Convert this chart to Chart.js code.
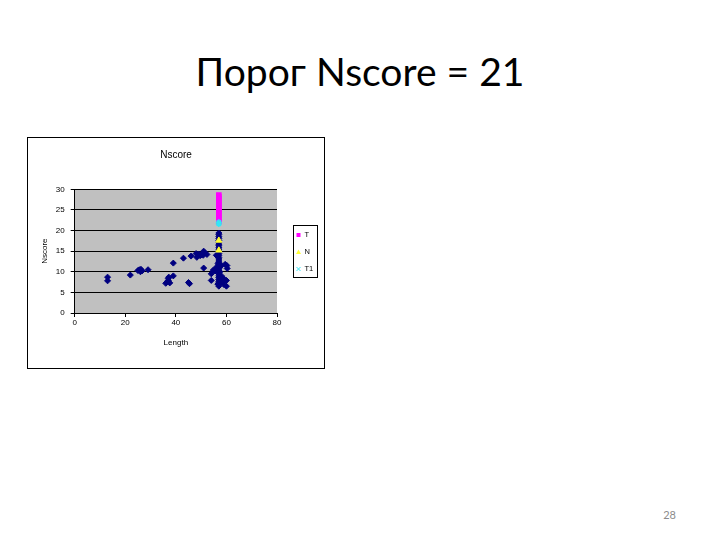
<!DOCTYPE html>
<html>
<head>
<meta charset="utf-8">
<script src="https://cdn.jsdelivr.net/npm/chart.js@4.4.1/dist/chart.umd.min.js"></script>
<style>
  body { margin: 0; width: 720px; height: 540px; background: #fff; position: relative; overflow: hidden; }
  #slideTitle { position: absolute; left: 0; width: 720px; top: 51px; text-align: center;
    font-family: Lato, sans-serif; font-size: 38px; line-height: 1; color: #000; white-space: nowrap; }
  #box { position: absolute; left: 27px; top: 137px; width: 296px; height: 230px; border: 1px solid #000; background: #fff; }
  #pageNo { position: absolute; left: 640px; width: 36px; top: 508px; text-align: right;
    font-family: Lato, sans-serif; font-size: 11px; color: #8c8c8c; }
</style>
</head>
<body>
<div id="slideTitle">Порог Nscore = 21</div>
<div id="box"><canvas id="chart" width="296" height="230"></canvas></div>
<div id="pageNo">28</div>
<script>
// axis ticks
const xTicks = [0, 20, 40, 60, 80];
const yTicks = [0, 5, 10, 15, 20, 25, 30];

// all sequences (navy diamonds, not in legend)
const allLength = [
  13, 13, 22, 25, 25.6, 26, 26.2, 26.6, 29,
  36, 36.6, 37, 37, 37.2, 37.6, 39, 39, 43, 45, 45.4, 46,
  48, 48.3, 49, 49.6, 50, 51, 51.5, 52.3, 50.8,
  51, 54, 54, 56, 55.5, 56.2, 54.8,
  57, 57, 57, 57, 57, 57, 57, 57, 57, 57, 57, 57, 57, 57, 57,
  57, 57, 57, 57, 57, 57, 57, 57, 57, 57, 57, 57, 57, 57, 57,
  56.6, 57.5, 56.7, 57.4, 57.6,
  58, 58, 58.5, 59, 59.5, 60.2, 60.3, 60, 60, 59
];
const allScore = [
  8.7, 7.8, 9.2, 10.3, 10.5, 10.0, 10.6, 10.2, 10.5,
  7.2, 7.5, 7.9, 8.4, 8.7, 7.3, 12.1, 9.0, 13.3, 7.4, 7.1, 13.8,
  14.4, 13.5, 14.3, 13.9, 14.1, 15.0, 14.6, 14.2, 14.0,
  10.9, 9.5, 7.9, 14.0, 10.2, 11.2, 10.4,
  6.5, 6.9, 7.3, 7.7, 8.1, 8.6, 9.0, 9.5, 9.9, 10.4, 10.8, 11.3, 11.7, 12.2, 12.6,
  13.1, 13.5, 14.0, 14.4, 14.9, 15.3, 15.8, 16.3, 16.7, 17.2, 17.6, 18.1, 18.5, 19.0, 19.4,
  7.0, 7.4, 12.0, 10.0, 8.2,
  11.5, 9.0, 7.6, 8.3, 11.8, 11.5, 10.8, 7.9, 6.5, 6.9
];

// series T
const tLength = [57, 57, 57, 57, 57, 57, 57, 57, 57, 57, 57, 57, 57, 57];
const tScore  = [22.2, 22.7, 23.2, 23.7, 24.2, 24.7, 25.2, 25.7, 26.2, 26.7, 27.2, 27.7, 28.2, 28.6];

// series N
const nLength = [57, 57];
const nScore  = [15.2, 17.6];

// series T1
const t1Length = [57, 57];
const t1Score  = [21.6, 22.0];

const NAVY = '#000080', MAGENTA = '#ff00ff', YELLOW = '#ffff33', CYAN = '#33e6f5';

function toPoints(xs, ys) {
  return xs.map((x, i) => ({ x: x, y: ys[i] }));
}

// fit the slide title to the width it has in the slide
(function fitTitle() {
  const el = document.getElementById('slideTitle');
  const span = document.createElement('span');
  span.textContent = el.textContent;
  el.textContent = '';
  el.appendChild(span);
  const w = span.getBoundingClientRect().width;
  if (w > 0) el.style.fontSize = (38 * 329 / w) + 'px';
})();

Chart.defaults.font.family = '"Liberation Sans", Arial, sans-serif';
Chart.defaults.color = '#000';

// grey plot area, like the spreadsheet
const plotBackground = {
  id: 'plotBackground',
  beforeDraw(chart) {
    const { ctx, chartArea: a } = chart;
    ctx.save();
    ctx.fillStyle = '#c0c0c0';
    ctx.fillRect(a.left, a.top, a.right - a.left, a.bottom - a.top);
    ctx.restore();
  }
};

// chart title centred over the whole chart box (not just the plot)
const boxTitle = {
  id: 'boxTitle',
  afterDraw(chart) {
    const ctx = chart.ctx;
    ctx.save();
    ctx.fillStyle = '#000';
    ctx.font = '10px "Liberation Sans", Arial, sans-serif';
    ctx.textAlign = 'center';
    ctx.textBaseline = 'middle';
    ctx.fillText('Nscore', chart.width / 2, 17);
    ctx.restore();
  }
};

// boxed legend to the right of the plot
const boxLegend = {
  id: 'boxLegend',
  afterDraw(chart) {
    const ctx = chart.ctx;
    const box = { x: 265.5, y: 87.5, w: 24, h: 52 };
    ctx.save();
    ctx.fillStyle = '#fff';
    ctx.strokeStyle = '#000';
    ctx.lineWidth = 1;
    ctx.fillRect(box.x, box.y, box.w, box.h);
    ctx.strokeRect(box.x, box.y, box.w, box.h);
    ctx.font = '7.5px "Liberation Sans", Arial, sans-serif';
    ctx.textBaseline = 'middle';
    const items = chart.data.datasets.filter(d => d.inLegend);
    items.forEach((d, i) => {
      const cy = box.y + 9.5 + i * 17;
      const cx = box.x + 5;
      ctx.fillStyle = d.backgroundColor;
      ctx.strokeStyle = d.borderColor;
      if (d.pointStyle === 'rect') {
        ctx.fillRect(cx - 2, cy - 2, 4, 4);
      } else if (d.pointStyle === 'triangle') {
        ctx.beginPath();
        ctx.moveTo(cx, cy - 2.5);
        ctx.lineTo(cx + 2.5, cy + 2);
        ctx.lineTo(cx - 2.5, cy + 2);
        ctx.closePath();
        ctx.fill();
      } else {
        ctx.lineWidth = 1;
        ctx.beginPath();
        ctx.moveTo(cx - 2, cy - 2); ctx.lineTo(cx + 2, cy + 2);
        ctx.moveTo(cx + 2, cy - 2); ctx.lineTo(cx - 2, cy + 2);
        ctx.stroke();
      }
      ctx.fillStyle = '#000';
      ctx.fillText(d.label, cx + 6, cy);
    });
    ctx.restore();
  }
};

new Chart(document.getElementById('chart'), {
  type: 'scatter',
  data: {
    // legend order T, N, T1; `order` puts the navy points underneath
    datasets: [
      { label: 'T', inLegend: true, order: 3, data: toPoints(tLength, tScore),
        pointStyle: 'rect', pointRadius: 4, backgroundColor: MAGENTA, borderColor: MAGENTA, borderWidth: 0 },
      { label: 'N', inLegend: true, order: 1, data: toPoints(nLength, nScore),
        pointStyle: 'triangle', pointRadius: 3.5, backgroundColor: YELLOW, borderColor: YELLOW, borderWidth: 1 },
      { label: 'T1', inLegend: true, order: 2, data: toPoints(t1Length, t1Score),
        pointStyle: 'star', pointRadius: 3, backgroundColor: CYAN, borderColor: CYAN, borderWidth: 1.5 },
      { label: 'Nscore', inLegend: false, order: 4, data: toPoints(allLength, allScore),
        pointStyle: 'rectRot', pointRadius: 3, backgroundColor: NAVY, borderColor: NAVY, borderWidth: 1 }
    ]
  },
  options: {
    responsive: false,
    animation: false,
    layout: { padding: { left: 0, right: 47, top: 51.3, bottom: 0 } },
    plugins: {
      legend: { display: false },
      tooltip: { enabled: false },
      title: { display: false }
    },
    scales: {
      x: {
        type: 'linear', min: 0, max: 80,
        afterFit: s => { s.height = 55; },
        afterBuildTicks: s => { s.ticks = xTicks.map(v => ({ value: v })); },
        ticks: { font: { size: 8 }, padding: 1, maxRotation: 0 },
        grid: { drawOnChartArea: false, drawTicks: true, tickLength: 4, color: '#000' },
        border: { color: '#000', width: 1 },
        title: { display: true, text: 'Length', font: { size: 8 }, padding: { top: 0, bottom: 20.5 } }
      },
      y: {
        type: 'linear', min: 0, max: 30,
        afterFit: s => { s.width = 46.7; },
        afterBuildTicks: s => { s.ticks = yTicks.map(v => ({ value: v })); },
        ticks: { font: { size: 8 }, padding: 6 },
        grid: { color: '#000', lineWidth: 1, tickLength: 4 },
        border: { color: '#000', width: 1 },
        title: { display: true, text: 'Nscore', font: { size: 8 }, padding: { top: 12.2, bottom: 0 } }
      }
    }
  },
  plugins: [plotBackground, boxTitle, boxLegend]
});
</script>
</body>
</html>
